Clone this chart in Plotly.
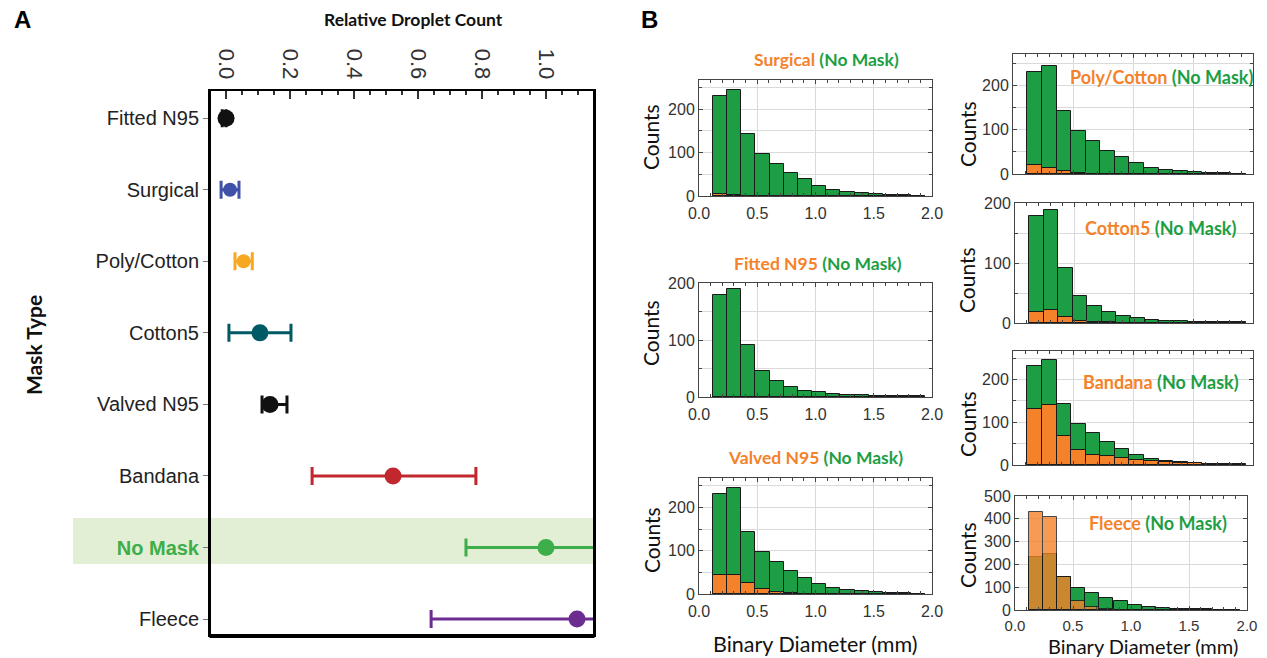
import plotly.graph_objects as go

W, H = 1267, 658

# ---------------- Panel A data ----------------
mask_types = ["Fitted N95", "Surgical", "Poly/Cotton", "Cotton5",
              "Valved N95", "Bandana", "No Mask", "Fleece"]
rel_count = [0.0, 0.0125, 0.055, 0.106, 0.1375, 0.522, 1.0, 1.097]
err_minus = [0.012, 0.028, 0.027, 0.097, 0.025, 0.253, 0.25, 0.456]
err_plus = [0.0, 0.028, 0.027, 0.097, 0.053, 0.259, 0.25, 0.456]
mask_colors = ["#111111", "#3F51A8", "#F6A821", "#005A66",
               "#111111", "#C1272D", "#3DAE49", "#6B2D90"]
x_ticks_a = [0.0, 0.2, 0.4, 0.6, 0.8, 1.0]

# ---------------- Panel B data ----------------
bin_centers = [0.181, 0.302, 0.424, 0.545, 0.667, 0.788, 0.910, 1.031,
               1.153, 1.274, 1.396, 1.517, 1.639, 1.760, 1.882]
no_mask_a = [231, 245, 143, 97, 74, 53, 38, 24, 14, 10, 6, 4, 3, 2, 1]
no_mask_b = [180, 190, 92, 45, 28, 18, 11, 8, 5, 3, 3, 2, 1, 1, 1]
surgical_counts = [4, 3, 1, 0, 0, 0, 0, 0, 0, 0, 0, 0, 0, 0, 0]
fitted_counts = [0, 0, 0, 0, 0, 0, 0, 0, 0, 0, 0, 0, 0, 0, 0]
valved_counts = [45, 43, 25, 11, 5, 3, 1, 1, 0, 0, 0, 0, 0, 0, 0]
poly_counts = [20, 13, 7, 2, 1, 0, 0, 0, 0, 0, 0, 0, 0, 0, 0]
cotton5_counts = [19, 21, 10, 4, 2, 1, 0, 0, 0, 0, 0, 0, 0, 0, 0]
bandana_counts = [130, 140, 67, 35, 24, 20, 16, 12, 10, 6, 5, 4, 3, 2, 2]
fleece_counts = [428, 406, 146, 38, 14, 5, 2, 1, 0, 0, 0, 0, 0, 0, 0]
x_ticks_b = [0.0, 0.5, 1.0, 1.5, 2.0]

GREEN = "#1E9E44"
ORANGE = "#F4822A"
BIN_W = 0.1215


def fx(p):
    return p / W


def fy(p):
    return 1 - p / H


fig = go.Figure()

# ---------- Panel A ----------
for name, v, em, ep, c in zip(mask_types, rel_count, err_minus, err_plus, mask_colors):
    fig.add_trace(go.Scatter(
        x=[v], y=[name], mode="markers",
        marker=dict(color=c, size=17 if name not in ("Surgical", "Poly/Cotton") else 14),
        error_x=dict(type="data", symmetric=False, array=[ep], arrayminus=[em],
                     color=c, thickness=3, width=9),
        xaxis="x", yaxis="y", showlegend=False))

ticktext = [("<b><span style='color:#3DAE49'>No Mask</span></b>"
             if m == "No Mask" else m) for m in mask_types]

fig.update_layout(
    xaxis=dict(domain=[fx(211), fx(593)], anchor="y", side="top", automargin=False,
               range=[-0.047, 1.147], tickvals=x_ticks_a, tickformat=".1f",
               tickangle=90, ticks="inside", ticklen=8, tickwidth=1.5, tickcolor="#333",
               minor=dict(dtick=0.05, ticks="inside", ticklen=4, tickcolor="#333"),
               showline=True, linecolor="#000", linewidth=2, mirror=False,
               showgrid=False, zeroline=False, ticklabelstandoff=2,
               tickfont=dict(family="Liberation Sans, Arial", size=22, color="#333")),
    yaxis=dict(domain=[fy(637), fy(91)], anchor="x", type="category", automargin=False,
               categoryarray=mask_types, range=[7.25, -0.38],
               tickvals=mask_types, ticktext=ticktext,
               ticks="outside", ticklen=5, tickcolor="#777",
               showline=True, linecolor="#000", linewidth=3, mirror=True,
               showgrid=False, zeroline=False,
               tickfont=dict(family="Liberation Sans, Arial", size=20, color="#222")),
)

shapes = [
    dict(type="rect", xref="paper", yref="paper", x0=fx(73), x1=fx(593),
         y0=fy(564), y1=fy(518), fillcolor="#E2EFD4", line=dict(width=0), layer="below"),
    dict(type="line", xref="paper", yref="paper", x0=fx(209.5), x1=fx(594.5),
         y0=fy(636), y1=fy(636), line=dict(color="#000", width=4)),
]


def ann(text, x, y, size, family="Lato", color="#111", angle=0, xanchor="center"):
    return dict(text=text, x=fx(x), y=fy(y), xref="paper", yref="paper",
                xanchor=xanchor, yanchor="middle", textangle=angle, showarrow=False,
                font=dict(family=family, size=size, color=color))


annotations = [
    ann("<b>A</b>", 12, 20, 24, family="Liberation Sans, Arial", color="#000", xanchor="left"),
    ann("<b>B</b>", 639, 20, 24, family="Liberation Sans, Arial", color="#000", xanchor="left"),
    ann("<b>Relative Droplet Count</b>", 413, 20, 17.5),
    ann("<b>Mask Type</b>", 33, 345, 21, angle=-90),
]

# ---------- Panel B ----------
panels = [
    ("Surgical", surgical_counts, no_mask_a, (699, 932), (80, 196), 267, True, (826, 60, 17.5), (651, 137)),
    ("Fitted N95", fitted_counts, no_mask_b, (699, 932), (283, 397), 201, True, (818, 263, 17.5), (651, 333)),
    ("Valved N95", valved_counts, no_mask_a, (699, 932), (478, 594), 268, True, (815, 457, 17.5), (651, 540)),
    ("Poly/Cotton", poly_counts, no_mask_a, (1013, 1253), (54, 174), 272, False, (1161, 77, 18), (967, 134)),
    ("Cotton5", cotton5_counts, no_mask_b, (1015, 1253), (203, 323), 201, False, (1160, 228, 18), (967, 280)),
    ("Bandana", bandana_counts, no_mask_a, (1013, 1253), (351, 465), 267, False, (1161, 382, 18), (967, 424)),
    ("Fleece", fleece_counts, no_mask_a, (1015, 1247), (496, 610), 500, True, (1158, 523, 18), (967, 555)),
]

for i, (name, oc, gc, xd, yd, ymax, showx, tpos, cpos) in enumerate(panels):
    k = i + 2
    xa, ya = f"x{k}", f"y{k}"
    fleece = name == "Fleece"
    fig.add_trace(go.Bar(x=bin_centers, y=gc, width=BIN_W, marker=dict(color=GREEN,
                         line=dict(color="#1a1a1a", width=1)), xaxis=xa, yaxis=ya,
                         showlegend=False))
    fig.add_trace(go.Bar(x=bin_centers, y=oc, width=BIN_W,
                         marker=dict(color=ORANGE, line=dict(color="#1a1a1a", width=1)),
                         opacity=0.8 if fleece else 1.0,
                         xaxis=xa, yaxis=ya, showlegend=False))
    fig.layout[f"xaxis{k}"] = dict(
        domain=[fx(xd[0]), fx(xd[1])], anchor=ya, range=[0, 2], tickvals=x_ticks_b,
        automargin=False, ticklabelstandoff=2 if fleece else 3,
        tickformat=".1f", showticklabels=showx, ticks="inside", ticklen=4, tickcolor="#444",
        minor=dict(dtick=0.1, ticks="inside", ticklen=3, tickcolor="#444", showgrid=False),
        showline=True, linecolor="#444", linewidth=1, mirror="ticks",
        showgrid=True, gridcolor="#dadada", gridwidth=1, zeroline=False,
        tickfont=dict(family="Liberation Sans, Arial", size=15 if fleece else 16, color="#333"))
    fig.layout[f"yaxis{k}"] = dict(
        domain=[fy(yd[1]), fy(yd[0])], anchor=xa, range=[0, ymax], automargin=False,
        dtick=100, ticks="inside", ticklen=4, tickcolor="#444",
        minor=dict(dtick=50 if not fleece else 100, ticks="inside", ticklen=3,
                   tickcolor="#444", showgrid=True, gridcolor="#dadada"),
        showline=True, linecolor="#444", linewidth=1, mirror="ticks",
        showgrid=True, gridcolor="#dadada", zeroline=False,
        tickfont=dict(family="Liberation Sans, Arial", size=16, color="#333"))
    annotations.append(ann(
        f"<b><span style='color:{ORANGE}'>{name}</span> "
        f"<span style='color:{GREEN}'>(No Mask)</span></b>", tpos[0], tpos[1], tpos[2]))
    annotations.append(ann("Counts", cpos[0], cpos[1], 21, angle=-90))

annotations.append(ann("Binary Diameter (mm)", 815, 644, 21.5))
annotations.append(ann("Binary Diameter (mm)", 1143, 646, 20))

fig.update_layout(
    width=W, height=H, margin=dict(l=0, r=0, t=0, b=0),
    paper_bgcolor="white", plot_bgcolor="rgba(0,0,0,0)",
    barmode="overlay", bargap=0, showlegend=False,
    shapes=shapes, annotations=annotations,
    font=dict(family="Liberation Sans, Arial"),
)

fig.write_html("out.html")
